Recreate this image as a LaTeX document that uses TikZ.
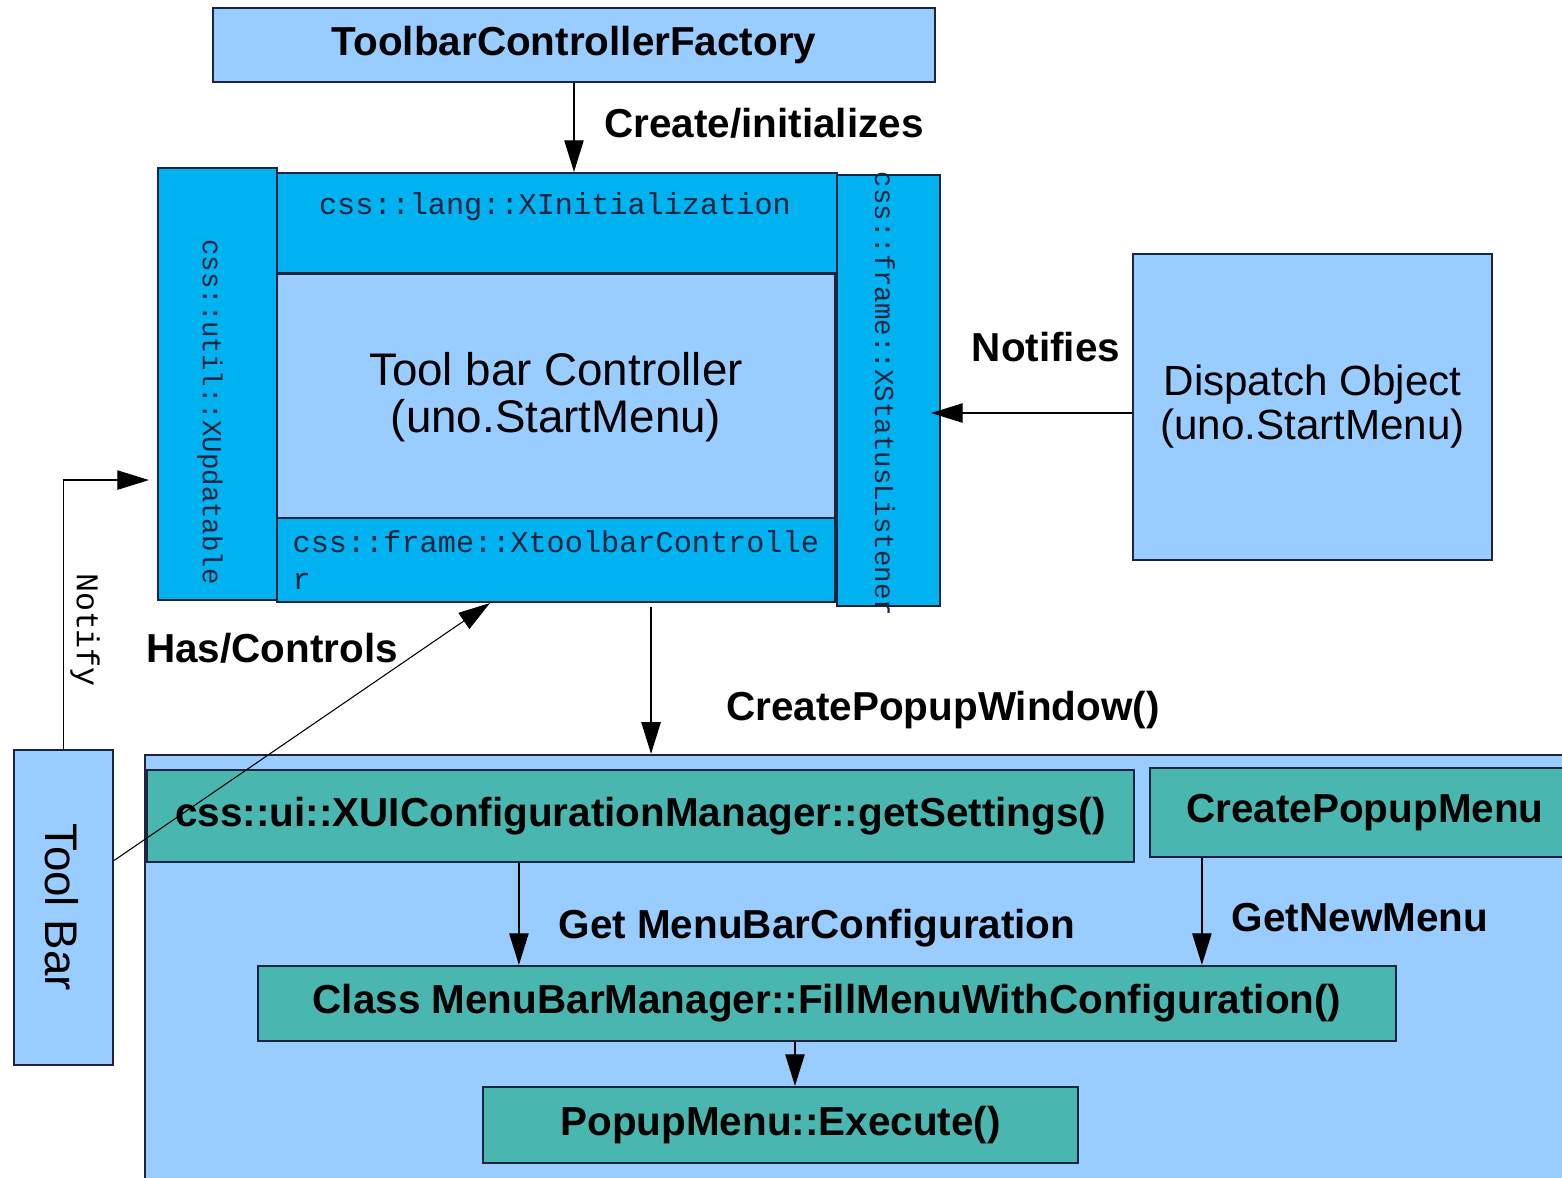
\documentclass[tikz,border=0pt]{standalone}
\usepackage{fontspec}
\setmainfont{Liberation Sans}
\setmonofont{Liberation Mono}
\usetikzlibrary{positioning,arrows.meta}
\definecolor{paleblue}{RGB}{153,204,255}
\definecolor{brightblue}{RGB}{0,178,240}
\definecolor{tealfill}{RGB}{74,182,176}
\definecolor{edgenavy}{RGB}{28,36,64}
\begin{document}
\begin{tikzpicture}[x=0.01cm,y=-0.01cm,
  box/.style={draw=edgenavy,line width=0.6pt,inner sep=0pt},
  pale/.style={box,fill=paleblue},
  bright/.style={box,fill=brightblue},
  tealnode/.style={box,fill=tealfill},
  lbl/.style={font=\fontsize{11.5}{13}\selectfont\bfseries},
  iface/.style={font=\fontsize{8.6}{10.5}\selectfont\ttfamily,text=edgenavy},
  ifacev/.style={font=\fontsize{7.8}{9}\selectfont\ttfamily,text=edgenavy,rotate=-90},
  link/.style={-{Triangle[length=9pt,width=5.5pt]},line width=0.4pt}]

\fill[white] (0,0) rectangle (1562,1178);
\useasboundingbox (0,0) rectangle (1562,1178);

\node[pale,lbl,minimum width=7.22cm,minimum height=0.74cm] (factory) at (574,45) {ToolbarControllerFactory};

\node[bright,minimum width=1.19cm,minimum height=4.32cm] (xupd) at (217.5,384) {};
\node[ifacev] (xupdtext) at (210,412) {css::util::XUpdatable};
\node[bright,minimum width=5.6cm,minimum height=1cm] (xinit) at (557,223) {};
\node[iface] (xinittext) at (555,207) {css::lang::XInitialization};
\node[pale,minimum width=5.58cm,minimum height=2.45cm,align=center,font=\fontsize{13}{13.5}\selectfont] (ctrl) at (556,397) {Tool bar Controller\\(uno.StartMenu)};
\node[bright,minimum width=5.58cm,minimum height=0.84cm] (xtbc) at (556,560) {};
\node[iface,align=left,anchor=north west,inner sep=0pt] (xtbctext) at (292,530) {css::frame::XtoolbarControlle\\r};
\node[bright,minimum width=1.03cm,minimum height=4.31cm] (xstat) at (888.5,390.5) {};
\node[ifacev] (xstattext) at (885,394) {css::frame::XStatusListener};

\node[pale,minimum width=3.59cm,minimum height=3.06cm,align=center,font=\fontsize{12}{12.5}\selectfont] (dispatch) at (1312.5,407) {Dispatch Object\\(uno.StartMenu)};

\node[pale,minimum width=14.55cm,minimum height=4.45cm] (popup) at (872.5,977.5) {};
\node[tealnode,lbl,minimum width=9.87cm,minimum height=0.92cm] (uicfg) at (640.5,816) {css::ui::XUIConfigurationManager::getSettings()};
\node[tealnode,lbl,minimum width=4.3cm,minimum height=0.89cm] (cpm) at (1365,812.5) {CreatePopupMenu};
\node[tealnode,lbl,minimum width=11.38cm,minimum height=0.75cm] (mbm) at (827,1003.5) {Class MenuBarManager::FillMenuWithConfiguration()};
\node[tealnode,lbl,minimum width=5.95cm,minimum height=0.76cm] (exec) at (780.5,1125) {PopupMenu::Execute()};

\node[pale,minimum width=0.99cm,minimum height=3.15cm] (toolbar) at (63.5,907.5) {};
\node[rotate=-90,font=\fontsize{13}{15}\selectfont] (toolbartext) at (62,907) {Tool Bar};

\draw[link] (factory.south) -- (factory.south |- xinit.north);
\node[lbl,anchor=west] (createlbl) at (592,123) {Create/initializes};

\coordinate (notifysrc) at ([yshift=-0.06cm]dispatch.west);
\draw[link] (notifysrc) -- ([xshift=-0.1cm]notifysrc -| xstat.east);
\node[lbl] (notifieslbl) at (1046,347) {Notifies};

\coordinate (popsrc) at ([xshift=0.95cm,yshift=-0.04cm]xtbc.south);
\draw[link] (popsrc) -- (popsrc |- popup.north);
\node[lbl] (popwinlbl) at (943,710) {CreatePopupWindow()};

\coordinate (hassrc) at ([yshift=0.47cm]toolbar.east);
\draw[link,line width=0.3pt] (hassrc) -- ([xshift=-0.66cm]xtbc.south);
\node[lbl] (haslbl) at (272,648) {Has/Controls};

\coordinate (notifyend) at ([xshift=-0.08cm,yshift=-0.96cm]xupd.west);
\draw[link] (toolbar.north) |- (notifyend);
\node[rotate=-90,font=\fontsize{9}{10}\selectfont\ttfamily] (notifylbl) at (85,630) {Notify};

\coordinate (getsrc) at ([xshift=-1.215cm]uicfg.south);
\draw[link] (getsrc) -- (getsrc |- mbm.north);
\node[lbl] (getlbl) at (817,928) {Get MenuBarConfiguration};
\coordinate (newsrc) at ([xshift=-1.63cm]cpm.south);
\draw[link] (newsrc) -- (newsrc |- mbm.north);
\node[lbl] (newlbl) at (1360,918) {GetNewMenu};
\coordinate (execsrc) at ([xshift=-0.32cm]mbm.south);
\draw[link] (execsrc) -- (execsrc |- exec.north);
\end{tikzpicture}
\end{document}
